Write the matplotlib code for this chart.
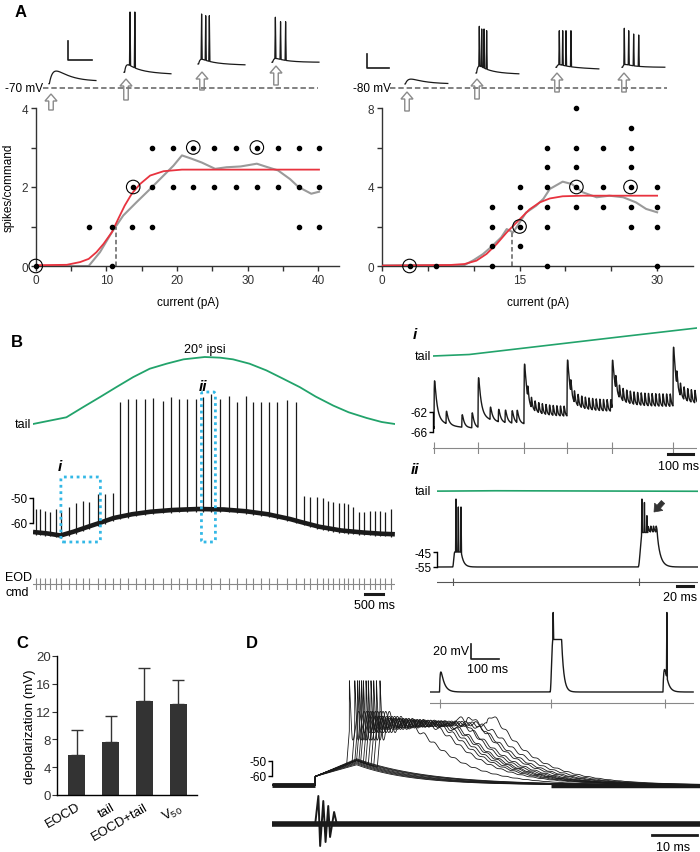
import numpy as np
import matplotlib.pyplot as plt
from matplotlib.patches import FancyArrow, FancyBboxPatch

plt.rcParams['font.family'] = ['Liberation Sans', 'DejaVu Sans']
plt.rcParams['mathtext.fontset'] = 'custom'
plt.rcParams['mathtext.rm'] = 'Liberation Sans'
plt.rcParams['mathtext.it'] = 'Liberation Sans:italic'
plt.rcParams['mathtext.bf'] = 'Liberation Sans:bold'
plt.rcParams['axes.linewidth'] = 1.0

GREEN = '#22a36b'
BLUE = '#33b8e6'
RED = '#e8333f'
GREY = '#9a9a9a'
INK = '#1a1a1a'

# ---------------- panel A data ----------------
# left cell, held at -70 mV
a1_dot_x = [16.5, 19.4, 22.3, 25.3, 28.3, 31.3, 34.3, 37.2, 40.1,
            13.8, 16.5, 19.4, 22.3, 25.3, 28.3, 31.3, 34.3, 37.2, 40.1,
            7.5, 10.8, 13.6, 16.5, 37.2, 40.1,
            0, 10.8]
a1_dot_y = [3] * 9 + [2] * 10 + [1] * 6 + [0] * 2
a1_circ_x = [0, 13.8, 22.3, 31.3]
a1_circ_y = [0, 2, 3, 3]
a1_avg_x = [0, 7.5, 9.1, 10.8, 12.4, 14.3, 16.2, 18.1, 19.5, 20.7, 22.0, 23.5, 25.4,
            27.0, 29.0, 31.3, 32.5, 34.3, 36.0, 37.2, 39.0, 40.1]
a1_avg_y = [0, 0, 0.35, 0.86, 1.28, 1.62, 1.95, 2.29, 2.54, 2.8, 2.72, 2.62, 2.46,
            2.5, 2.52, 2.59, 2.52, 2.42, 2.2, 2.0, 1.83, 1.88]
a1_fit_x = [0, 4.4, 6.3, 7.5, 8.6, 9.6, 10.8, 11.7, 12.6, 13.6, 14.8, 16.2, 18.1, 20.7, 40.1]
a1_fit_y = [0.02, 0.03, 0.1, 0.18, 0.35, 0.56, 0.86, 1.2, 1.53, 1.83, 2.08, 2.29, 2.4, 2.44, 2.44]
a1_half = (11.3, 1.0)

# right cell, held at -80 mV
a2_cols = [3.0, 5.9, 12.0, 15.0, 18.0, 21.2, 24.1, 27.1, 30.0]
a2_col_counts = [[0], [0], [0, 1, 2, 3], [1, 2, 3, 4], [0, 2, 3, 4, 5, 6],
                 [3, 4, 5, 6, 8], [3, 4, 6], [2, 3, 4, 5, 6, 7], [0, 2, 3, 4]]
a2_circ_x = [3.0, 15.0, 21.2, 27.1]
a2_circ_y = [0, 2, 4, 4]
a2_avg_x = [0, 9, 10, 11, 12, 13, 13.6, 14.3, 15, 15.7, 16.8, 17.6, 18.3, 19.7, 20.7,
            21.9, 23.4, 24.8, 26.3, 27.7, 28.8, 30]
a2_avg_y = [0.03, 0.05, 0.3, 0.6, 1.0, 1.45, 1.87, 1.7, 2.2, 2.7, 3.05, 3.4, 3.9, 4.27, 4.15,
            3.73, 3.48, 3.56, 3.48, 3.22, 2.89, 2.72]
a2_fit_x = [0, 7.4, 9.0, 10.3, 11.4, 12.5, 13.6, 14.3, 15.0, 16.1, 17.2, 18.3, 19.7, 21.9, 30]
a2_fit_y = [0.02, 0.05, 0.1, 0.27, 0.61, 1.11, 1.7, 2.03, 2.36, 2.87, 3.22, 3.42, 3.53, 3.56, 3.56]
a2_half = (14.2, 1.7)

# example responses above each plot (ms, mV)
a1_snip_base = [(-65.5, -63.7), (-53.5, -55.3), (-44.8, -45.8), (-43.0, -43.0)]
a1_snip_epsp = [13, 8, 5, 4]
a1_snip_spk_t = [[], [5, 9], [3, 6.4, 9.4], [2.8, 7.1, 11.3]]
a1_snip_spk_v = [[], [9.8, 9.8], [7.7, 5.9, 5.9], [4.3, -0.4, -0.4]]
a2_snip_base = [(-74.3, -74.3), (-58.6, -60.0), (-50.4, -52.8), (-50.4, -50.4)]
a2_snip_epsp = [7, 10, 4, 4]
a2_snip_spk_t = [[], [3, 5.2, 7.3, 9.7], [3, 6.1, 9.1, 13.6], [2.1, 6.1, 10.6, 15.2]]
a2_snip_spk_v = [[], [8.2, 4.4, 4.4, 2.0], [1.9, 1.9, 1.9, 1.9], [5.4, 1.9, -2.8, -4.2]]

# ---------------- panel B data ----------------
tail_t = [0, 0.91, 1.36, 1.82, 2.27, 2.73, 3.18, 3.64, 4.1, 4.68, 5.1, 5.45, 5.9, 6.36,
          6.8, 7.27, 7.7, 8.18, 8.6, 9.09, 9.5, 9.86]
tail_deg = [0, 2, 5, 8, 11, 14, 16.5, 18, 19.3, 20, 19.8, 19.3, 18, 16, 13.6, 11, 8.2,
            5.5, 3.5, 1.8, 0.6, 0]
base_t = [0, 0.4, 0.75, 1.1, 1.5, 1.85, 2.2, 2.7, 3.2, 3.8, 4.5, 5.2, 5.8, 6.4, 7.0, 7.3,
          7.8, 8.4, 9.0, 9.5, 9.86]
base_v = [-63.6, -64.2, -65, -63.5, -61.5, -59.8, -58, -56.5, -55.5, -54.8, -54.4, -54.6,
          -55.3, -56.5, -58.4, -59.6, -61.5, -63, -63.8, -64.3, -64.5]
cmd_t = [0.09, 0.2, 0.34, 0.47, 0.62, 0.77, 0.98, 1.16, 1.35, 1.53, 1.77, 1.95, 2.18,
         2.38, 2.59, 2.82, 3.05, 3.27, 3.53, 3.75, 3.98, 4.2, 4.43, 4.64, 4.86, 5.09,
         5.35, 5.56, 5.8, 6.0, 6.2, 6.44, 6.65, 6.93, 7.16,
         7.38, 7.56, 7.73, 7.89, 8.05, 8.18, 8.35, 8.47, 8.59, 8.73, 8.88, 9.02, 9.18,
         9.32, 9.45, 9.59, 9.75]
spk_peak = [-54.4, -54.4, -55, -55.7, -54.4, -55.7, -53.7, -52, -51, -51.5, -48.4, -48.4, -48,
            -11.7, -10.4, -10.4, -10.4, -10, -11, -9.7, -10.4, -10.4, -10.4, -9.7, -8.4,
            -10.4, -9.3, -11.5, -9.3, -11.5, -11.7, -11.5, -11.7, -10.8, -11.7,
            -49, -49.7, -49.7, -50.1, -51, -51.5, -52, -52, -52.4, -53.7, -55.7, -55.7,
            -55, -55, -55, -55.7, -54.4]
win_i = (0.77, 1.826)
win_ii = (4.61, 4.923)

# expanded view i (ms, mV)
bi_cmd = [4, 180, 364, 536, 716, 960]
bi_peak = [-55, -54.6, -51.8, -51.0, -51.4, -48.4]
bi_level = [-65.3, -64.5, -63.0, -62.0, -61.0, -60.7]
bi_pre = -65.0
bi_small_t = [52, 115, 155, 228, 261, 288, 315, 335]
bi_small_a = [2.5, 2.5, 3.0, 2.5, 2.5, 2.5, 2.5, 2.5]
bi_ripple = [0, 0, 2.0, 2.3, 2.5, 2.5]

# expanded view ii (ms, mV)
bii_cmd = [19, 242]
bii_rest = -55
bii_spk_t = [22.8, 25.6, 28.8, 246, 249, 252]
bii_spk_v = [-9.7, -15, -15, -9.7, -12, -20.8]

# ---------------- panel C data ----------------
c_labels = ['EOCD', 'tail', 'EOCD+tail', r'V$_{50}$']
c_mean = [5.8, 7.6, 13.5, 13.1]
c_err = [3.6, 3.7, 4.8, 3.5]

# ---------------- panel D data ----------------
d_rest = -66
d_step = (9.6, -60.3)
d_ramp_peak_t = 18.8
d_sub_peak = [-52.5, -51.8, -51.2, -50.6, -50.0, -49.5, -49.0, -48.5]
d_sub_tau = [12, 12.5, 13, 13.5, 14, 15, 15.5, 16]
d_spk_t = [17.2, 18.4, 19.0, 19.4, 19.9, 20.3, 20.9, 21.4, 22.0, 22.6, 23.2, 24.0]
d_end_t = [32.2, 37.3, 38.9, 40.0, 41.1, 41.8, 42.9, 44.0, 45.6, 46.7, 48.4, 50.2]
d_end_bump = [0, 0, 0, 0, 0, 0, 6, 0, 6, 0, 0, 7]
d_fp_t = [0, 9.6, 10.3, 10.7, 11.4, 11.9, 12.5, 12.9, 13.8, 14.4, 95]
d_fp_v = [0, 0, 28, -22, 23, -18, 18, -13, 12, 0, 0]
di_cmd = [36, 432, 839]


# ---------------- helpers ----------------
W, H = 700, 853
fig = plt.figure(figsize=(W / 100, H / 100), dpi=100)


def pax(x0, y0, x1, y1):
    ax = fig.add_axes([x0 / W, 1 - y1 / H, (x1 - x0) / W, (y1 - y0) / H])
    ax.patch.set_visible(False)
    return ax


def epsp(t, t0, amp, rise, decay):
    dt = np.clip(t - t0, 0, None)
    tp = rise * np.log(1 + decay / rise)
    norm = (1 - np.exp(-tp / rise)) * np.exp(-tp / decay)
    return amp * (1 - np.exp(-dt / rise)) * np.exp(-dt / decay) / norm


def plateau(t, t_on, t_off, amp, rise, fall):
    up = 0.5 - 0.5 * np.cos(np.pi * np.clip((t - t_on) / rise, 0, 1))
    down = np.where(t > t_off, np.exp(-(t - t_off) / fall), 1.0)
    return amp * up * down


def add_spikes(t, v, times, peaks, w):
    v = v.copy()
    for ts, pk in zip(times, peaks):
        v0 = np.interp(ts, t, v)
        v = v + (pk - v0) * np.clip(1 - np.abs(t - ts) / w, 0, None)
    return v


def bracket(ax, lo, hi, fs=8.5):
    for s in ['top', 'right', 'bottom']:
        ax.spines[s].set_visible(False)
    ax.spines['left'].set_bounds(lo, hi)
    ax.set_yticks([lo, hi])
    ax.set_yticklabels([str(lo), str(hi)])
    ax.set_xticks([])
    ax.tick_params(axis='y', direction='out', length=3, width=1, pad=1, labelsize=fs)


ov = pax(0, 0, W, H)
ov.set_xlim(0, W)
ov.set_ylim(H, 0)
ov.axis('off')


def txt(x, y, s, **kw):
    kw.setdefault('fontsize', 8.5)
    kw.setdefault('ha', 'center')
    kw.setdefault('va', 'center')
    ov.text(x, y, s, **kw)


def up_arrow(x, y_tip, y_tail):
    ov.add_patch(FancyArrow(x, y_tail, 0, y_tip - y_tail, width=4.5, head_width=12,
                            head_length=7, length_includes_head=True, fc='white',
                            ec='#8a8a8a', lw=1.0))


# ---------------- panel A ----------------
def a_axes(x0, xmax, ymax, px_per_unit):
    ax = pax(x0, 109, x0 + xmax * px_per_unit, 267)
    ax.set_xlim(0, xmax)
    ax.set_ylim(0, ymax)
    for s in ['top', 'right']:
        ax.spines[s].set_visible(False)
    for s in ['left', 'bottom']:
        ax.spines[s].set_color('#333333')
    ax.tick_params(direction='out', length=3.5, width=1, labelsize=8.5, colors='#333333', pad=2)
    return ax


axA1 = a_axes(35.7, 43, 4, 7.065)
axA1.set_xticks(range(0, 45, 5))
axA1.set_xticklabels(['0', '', '10', '', '20', '', '30', '', '40'])
axA1.set_yticks([0, 1, 2, 3, 4])
axA1.set_yticklabels(['0', '', '2', '', '4'])
axA1.plot(a1_avg_x, a1_avg_y, color=GREY, lw=1.5, zorder=2)
axA1.plot(a1_fit_x, a1_fit_y, color=RED, lw=1.3, zorder=3)
axA1.plot([a1_half[0]] * 2, [0, a1_half[1]], color='#777777', lw=1.3, ls=(0, (2.5, 1.5)), zorder=2)
axA1.scatter(a1_dot_x, a1_dot_y, s=9, color='black', zorder=4, clip_on=False)
axA1.scatter(a1_circ_x, a1_circ_y, s=95, facecolor='none', edgecolor='black', lw=0.8,
             zorder=4, clip_on=False)

axA2 = a_axes(382, 33.9, 8, 9.17)
axA2.set_xticks(range(0, 35, 5))
axA2.set_xticklabels(['0', '', '', '15', '', '', '30'])
axA2.set_yticks([0, 2, 4, 6, 8])
axA2.set_yticklabels(['0', '', '4', '', '8'])
a2_x = [c for c, ys in zip(a2_cols, a2_col_counts) for _ in ys]
a2_y = [y for ys in a2_col_counts for y in ys]
axA2.plot(a2_avg_x, a2_avg_y, color=GREY, lw=1.5, zorder=2)
axA2.plot(a2_fit_x, a2_fit_y, color=RED, lw=1.3, zorder=3)
axA2.plot([a2_half[0]] * 2, [0, a2_half[1]], color='#777777', lw=1.3, ls=(0, (2.5, 1.5)), zorder=2)
axA2.scatter(a2_x, a2_y, s=9, color='black', zorder=4, clip_on=False)
axA2.scatter(a2_circ_x, a2_circ_y, s=95, facecolor='none', edgecolor='black', lw=0.8,
             zorder=4, clip_on=False)

txt(9, 188, 'spikes/command', rotation=90)
txt(188, 303, 'current (pA)')
txt(538, 303, 'current (pA)')


def snip_row(x0, ms_px, mv_px, hold, snip_px, bases, epsps, spk_t, spk_v, rise0):
    ax = pax(x0, 0, x0 + 350, 100)
    ax.set_xlim(0, 350 * ms_px)
    ax.set_ylim(hold - 11 * mv_px, hold + 89 * mv_px)
    ax.axis('off')
    t = np.arange(0, 39, 0.05)
    for k, sx in enumerate(snip_px):
        b0, b1 = bases[k]
        if spk_t[k]:
            v = b0 + (b1 - b0) * t / 39 + epsp(t, 0.5, epsps[k], 1.2, 10)
        else:
            v = b0 + (b1 - b0) * t / 39 + epsp(t, 0.3, epsps[k], rise0, 14)
        v = add_spikes(t, v, spk_t[k], spk_v[k], 0.45)
        ax.plot(t + (sx - x0) * ms_px, v, color=INK, lw=0.9)
    return ax


rowA1 = snip_row(35, 0.83, 1.05, -70, [49, 124, 198, 272], a1_snip_base, a1_snip_epsp,
                 a1_snip_spk_t, a1_snip_spk_v, 3.5)
rowA1.plot([(43 - 35) * 0.83, (318 - 35) * 0.83], [-70, -70], color='#777777', lw=1.3,
           ls=(0, (3, 1.6)))
rowA1.plot([27.4, 27.4, 47.4], [-20.6, -40.6, -40.6], color=INK, lw=1.2)

rowA2 = snip_row(350, 0.91, 1.43, -80, [405, 476, 556, 622], a2_snip_base, a2_snip_epsp,
                 a2_snip_spk_t, a2_snip_spk_v, 3.0)
rowA2.plot([(390 - 350) * 0.91, (667 - 350) * 0.91], [-80, -80], color='#777777', lw=1.3,
           ls=(0, (3, 1.6)))
rowA2.plot([15.5, 15.5, 35.5], [-31.4, -51.4, -51.4], color=INK, lw=1.2)

txt(43, 89, '-70 mV', ha='right')
txt(391, 89, '-80 mV', ha='right')
for x, tip, tl in [(51, 95, 111), (126, 80, 101), (202, 73, 91), (276, 67, 86),
                   (407, 93, 112), (477, 80, 100), (557, 74, 93), (624, 74, 93)]:
    up_arrow(x, tip, tl)

# ---------------- panel B, full sweep ----------------
T_END = 362 / 36.7
axBt = pax(33, 340, 395, 440)
axBt.set_xlim(0, T_END)
axBt.set_ylim(-15 / 3.35, 85 / 3.35)
axBt.axis('off')
axBt.plot(tail_t, tail_deg, color=GREEN, lw=1.3)

axBv = pax(33, 385, 395, 550)
axBv.set_xlim(0, T_END)
axBv.set_ylim(-50 - 51 / 2.5, -50 + 114 / 2.5)
bracket(axBv, -60, -50)
axBv.plot(base_t, base_v, color=INK, lw=3.3, solid_capstyle='butt')
axBv.vlines(cmd_t, np.interp(cmd_t, base_t, base_v) - 1.0, spk_peak, color=INK, lw=0.9)
asp = (1 / 2.5) / (1 / 36.7)
for (t0, t1), top in [(win_i, -41.6), ((4.6, 4.96), -7.6)]:
    axBv.add_patch(FancyBboxPatch((t0 - 0.01, -67.6), t1 - t0 + 0.02, top + 67.6,
                                  boxstyle='round,pad=0,rounding_size=0.06',
                                  mutation_aspect=asp, fill=False, ec=BLUE, lw=2.0,
                                  ls=(0, (1, 1.3)), zorder=5))

axBc = pax(33, 579, 395, 591)
axBc.set_xlim(0, T_END)
axBc.set_ylim(0, 1)
axBc.axis('off')
axBc.plot([0, T_END], [0.5, 0.5], color='#888888', lw=0.8)
axBc.vlines(cmd_t, 0, 1, color='#888888', lw=0.8)
axBc.plot([9.05, 9.55], [-0.33, -0.33], color=INK, lw=2.2, clip_on=False)

txt(17, 342, 'B', fontsize=12, fontweight='bold')
txt(205, 350, '20° ipsi', fontsize=9)
txt(31, 425, 'tail', ha='right', fontsize=9)
txt(60, 467, 'i', fontsize=11, fontweight='bold', fontstyle='italic')
txt(203, 387, 'ii', fontsize=11, fontweight='bold', fontstyle='italic')
txt(5, 578, 'EOD', ha='left', fontsize=9)
txt(5, 593, 'cmd', ha='left', fontsize=9)
txt(375, 606, '500 ms', fontsize=9)

# ---------------- panel B, expanded i ----------------
axit = pax(433, 320, 697, 365)
axit.set_xlim(0, 1056)
ti = np.linspace(0, 1056, 300)
tail_i = np.interp(win_i[0] + ti / 1000, tail_t, tail_deg)
sc = (357 - 329) / (tail_i[-1] - tail_i[0])
axit.set_ylim(tail_i[0] - 8 / sc, tail_i[0] + 37 / sc)
axit.axis('off')
axit.plot(ti, tail_i, color=GREEN, lw=1.2)

axiv = pax(433, 335, 697, 436)
axiv.set_xlim(0, 1056)
axiv.set_ylim(-62 - 23 / 5, -62 + 78 / 5)
bracket(axiv, -66, -62)
t = np.arange(0, 1056, 0.25)
lvl = np.full_like(t, bi_pre)
for k, c in enumerate(bi_cmd):
    lvl[t >= c] = bi_level[k]
v = lvl.copy()
ends = bi_cmd[1:] + [1056]
for k, c in enumerate(bi_cmd):
    v += epsp(t, c, bi_peak[k] - bi_level[k] - 2.0, 0.8, 9) + epsp(t, c, 2.0, 3, 50)
    if bi_ripple[k]:
        for tr in np.arange(c + 14, ends[k], 14.5):
            v += epsp(t, tr, bi_ripple[k], 0.8, 4)
for ts, a in zip(bi_small_t, bi_small_a):
    v += epsp(t, ts, a, 1.0, 8)
axiv.plot(t, v, color=INK, lw=1.0)

axic = pax(433, 443, 697, 455)
axic.set_xlim(0, 1056)
axic.set_ylim(0, 1)
axic.axis('off')
axic.plot([0, 1056], [0.5, 0.5], color='#888888', lw=0.8)
axic.vlines(bi_cmd, 0, 1, color='#888888', lw=0.8)
axic.plot([940, 1040], [0, 0], color=INK, lw=2.2, clip_on=False)

txt(415, 335, 'i', fontsize=11, fontweight='bold', fontstyle='italic')
txt(431, 357, 'tail', ha='right', fontsize=9)
txt(679, 467, '100 ms', fontsize=9)

# ---------------- panel B, expanded ii ----------------
axiit = pax(437, 480, 698, 504)
axiit.set_xlim(0, 313.3)
tii = np.linspace(0, 313.3, 100)
tail_ii = np.interp(win_ii[0] + tii / 1000, tail_t, tail_deg)
axiit.set_ylim(tail_ii.mean() - 12 / sc, tail_ii.mean() + 12 / sc)
axiit.axis('off')
axiit.plot(tii, tail_ii, color=GREEN, lw=1.2)

axiiv = pax(437, 495, 698, 572)
axiiv.set_xlim(0, 313.3)
axiiv.set_ylim(-55 - 4 / 1.5, -55 + 73 / 1.5)
bracket(axiiv, -55, -45)
t = np.arange(0, 313.3, 0.05)
v = bii_rest + plateau(t, 18.8, 29, 10, 2.5, 3.0) + plateau(t, 241.5, 264, 23, 5, 4.0)
for tr in np.arange(253, 264, 3.2):
    v += epsp(t, tr, 4, 0.4, 1.0)
v = add_spikes(t, v, bii_spk_t, bii_spk_v, 0.5)
axiiv.plot(t, v, color=INK, lw=1.0)

axiic = pax(437, 579, 698, 587)
axiic.set_xlim(0, 313.3)
axiic.set_ylim(0, 1)
axiic.axis('off')
axiic.plot([0, 313.3], [0.5, 0.5], color='#555555', lw=0.8)
axiic.vlines(bii_cmd, 0, 1, color='#555555', lw=0.8)
axiic.plot([288, 307], [0, 0], color=INK, lw=2.2, clip_on=False)

txt(415, 470, 'ii', fontsize=11, fontweight='bold', fontstyle='italic')
txt(431, 492, 'tail', ha='right', fontsize=9)
txt(680, 598, '20 ms', fontsize=9)
ov.add_patch(FancyArrow(663, 503, -9, 10, width=4.5, head_width=11, head_length=7,
                        length_includes_head=True, fc='#333333', ec='#333333', lw=0.5))

# ---------------- panel C ----------------
axC = pax(57, 657, 197, 796)
xs = np.arange(len(c_mean))
axC.bar(xs, c_mean, width=0.5, color='#333333', zorder=2)
axC.errorbar(xs, c_mean, yerr=[np.zeros(len(c_err)), c_err], fmt='none', ecolor='#333333',
             elinewidth=1.0, capsize=4.5, capthick=1.0, zorder=1)
axC.set_xlim(-0.59, 3.56)
axC.set_ylim(0, 20)
axC.set_yticks(range(0, 21, 4))
axC.set_xticks(xs)
axC.set_xticklabels(c_labels, rotation=30, ha='right', rotation_mode='anchor')
for s in ['top', 'right']:
    axC.spines[s].set_visible(False)
axC.tick_params(axis='y', direction='out', length=3.5, labelsize=9.5, pad=1, colors='#333333')
axC.tick_params(axis='x', length=0, labelsize=9.5, pad=4)
axC.set_ylabel('depolarization (mV)', fontsize=9.5, labelpad=0)
txt(22, 643, 'C', fontsize=12, fontweight='bold')

# ---------------- panel D ----------------
D_END = 428 / 4.5
axD = pax(272, 670, 700, 790)
axD.set_xlim(0, D_END)
axD.set_ylim(-50 - 28 / 1.5, -50 + 92 / 1.5)
bracket(axD, -60, -50)
t = np.arange(0, D_END, 0.02)


def ramp(t, peak, tau):
    t0, v0 = d_step
    r = np.where(t < t0, d_rest, v0 + (peak - v0) * (t - t0) / (d_ramp_peak_t - t0))
    return np.where(t > d_ramp_peak_t,
                    d_rest + (peak - d_rest) * np.exp(-(t - d_ramp_peak_t) / tau), r)


for pk, tau in zip(d_sub_peak, d_sub_tau):
    axD.plot(t, ramp(t, pk, tau), color=INK, lw=0.6)
for k, (ts, te) in enumerate(zip(d_spk_t, d_end_t)):
    pre = ramp(t, -49.5, 14)
    s = 1.5 * np.log1p(np.exp((t - te) / 1.5))
    lvl = d_rest + (-25 - d_rest) * np.exp(-s / 10)
    osc = -15 * np.exp(-(t - ts) / 4.0) * np.cos(2 * np.pi * (t - ts - 0.8) / 2.5)
    wig = 1.5 * np.sin(2 * np.pi * (t - ts) / 2.3) * (lvl - d_rest) / 41
    post = lvl + osc + wig + epsp(t, te - 2.5, d_end_bump[k], 1.0, 2.5)
    v = np.where(t < ts, pre, post)
    v = add_spikes(t, v, [ts], [3.5], 0.6)
    axD.plot(t, v, color=INK, lw=0.6)
axD.plot([0, d_step[0]], [d_rest, d_rest], color=INK, lw=3.5, solid_capstyle='butt')
axD.plot([62, D_END], [d_rest - 0.4, d_rest - 0.4], color=INK, lw=2.5, solid_capstyle='butt')

axDf = pax(272, 790, 700, 853)
axDf.set_xlim(0, D_END)
axDf.set_ylim(-28, 35)
axDf.axis('off')
axDf.plot(d_fp_t, d_fp_v, color=INK, lw=1.4)
axDf.plot([0, D_END], [0, 0], color=INK, lw=4.0, solid_capstyle='butt')
axDf.plot([84.4, 94.4], [-11, -11], color=INK, lw=2.0)
txt(673, 848, '10 ms', fontsize=9)

axDi = pax(430, 600, 700, 712)
axDi.set_xlim(0, 270 / 0.28)
axDi.set_ylim(-65 - 19 / 0.75, -65 + 93 / 0.75)
axDi.axis('off')
t = np.arange(0, 940, 0.25)
v = -65 + epsp(t, 34, 26.7, 3, 12) + plateau(t, 429, 470, 70, 10, 8) + epsp(t, 832, 30, 6, 10)
v = add_spikes(t, v, [440, 846], [41, 41], 1.5)
axDi.plot(t, v, color=INK, lw=1.0)
axDi.plot([0, 940], [-79.7, -79.7], color='#888888', lw=0.8)
axDi.vlines(di_cmd, -85.7, -73.7, color='#888888', lw=0.8)
axDi.plot([146, 146, 246], [-1, -21, -21], color=INK, lw=1.2)
axDi.text(139, -10.3, '20 mV', ha='right', va='center', fontsize=9)
axDi.text(204, -35, '100 ms', ha='center', va='center', fontsize=9)

txt(252, 643, 'D', fontsize=12, fontweight='bold')
txt(21, 12, 'A', fontsize=12, fontweight='bold')

fig.savefig('out.png', dpi=100)
